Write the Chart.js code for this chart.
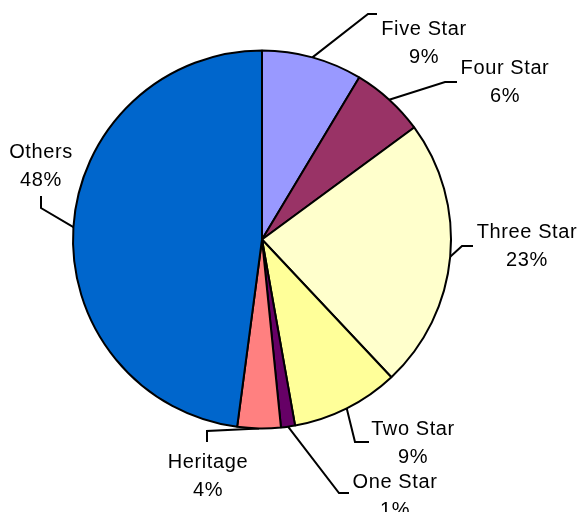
<!DOCTYPE html>
<html>
<head>
<meta charset="utf-8">
<script src="https://cdn.jsdelivr.net/npm/chart.js@4/dist/chart.umd.min.js"></script>
<style>
  html, body { margin: 0; padding: 0; background: #fff; }
  #wrap { width: 579px; height: 512px; }
</style>
</head>
<body>
<div id="wrap"><canvas id="myChart" width="579" height="512"></canvas></div>
<script>
// hotel categories (share of rooms)
const categories = ['Five Star', 'Four Star', 'Three Star', 'Two Star', 'One Star', 'Heritage', 'Others']
const shares = [8.6, 6.3, 23.1, 9.2, 1.2, 3.7, 47.9]
const colors = ['#9999FF', '#993366', '#FFFFCC', '#FFFF99', '#660066', '#FF8080', '#0066CC']

// where each label sits + the bend of its leader line
const labelSpots = [
  { x: 424, y: 29,  line: [[368, 14], [377, 14]] },
  { x: 505, y: 68,  line: [[445, 82], [457, 82]] },
  { x: 527, y: 232, line: [[462, 246], [473, 246]] },
  { x: 413, y: 429, line: [[355, 442], [369, 442]] },
  { x: 395, y: 482, line: [[339, 493], [349, 493]] },
  { x: 208, y: 462, line: [[207, 431], [207, 442]] },
  { x: 41,  y: 152, line: [[41, 208], [41, 196]] }
]

const leaderPlugin = {
  id: 'leaders',
  beforeDatasetsDraw(chart) {
    const ctx = chart.ctx
    const meta = chart.getDatasetMeta(0)
    ctx.save()
    ctx.strokeStyle = '#000'
    ctx.lineWidth = 2
    meta.data.forEach(function(arc, i) {
      const mid = (arc.startAngle + arc.endAngle) / 2
      const sx = arc.x + Math.cos(mid) * arc.outerRadius
      const sy = arc.y + Math.sin(mid) * arc.outerRadius
      ctx.beginPath()
      ctx.moveTo(sx, sy)
      labelSpots[i].line.forEach(function(p) { ctx.lineTo(p[0], p[1]) })
      ctx.stroke()
    })
    ctx.restore()
  },
  afterDatasetsDraw(chart) {
    const ctx = chart.ctx
    const total = shares.reduce(function(a, b) { return a + b }, 0)
    ctx.save()
    ctx.fillStyle = '#000'
    ctx.font = '20px "Liberation Sans", Arial, sans-serif'
    ctx.letterSpacing = '0.6px'
    ctx.textAlign = 'center'
    ctx.textBaseline = 'middle'
    categories.forEach(function(name, i) {
      const spot = labelSpots[i]
      const pct = Math.round(shares[i] / total * 100) + '%'
      ctx.fillText(name, spot.x, spot.y)
      ctx.fillText(pct, spot.x, spot.y + 28)
    })
    ctx.restore()
  }
}

let chart = new Chart(document.getElementById('myChart'), {
  type: 'pie',
  data: {
    labels: categories,
    datasets: [{
      data: shares,
      backgroundColor: colors,
      borderColor: '#000',
      borderWidth: 2
    }]
  },
  options: {
    responsive: false,
    animation: false,
    layout: { padding: { left: 72, right: 127, top: 49, bottom: 82 } },
    plugins: {
      legend: { display: false },
      tooltip: { enabled: false }
    }
  },
  plugins: [leaderPlugin]
})
</script>
</body>
</html>
